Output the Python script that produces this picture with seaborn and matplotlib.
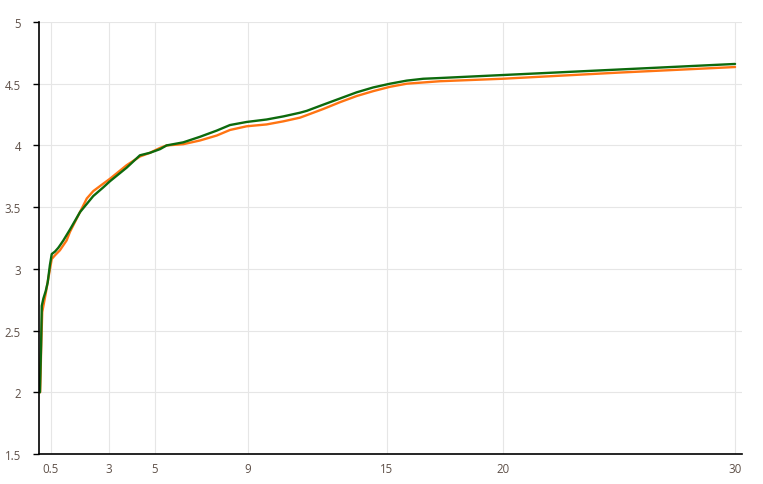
import matplotlib
matplotlib.use("Agg")
import matplotlib.pyplot as plt
import pandas as pd
import seaborn as sns

# values
green_x = [0.04, 0.09, 0.12, 0.19, 0.29, 0.375, 0.47, 0.55, 0.69, 0.83, 0.905, 1.05, 1.34,
           1.77, 2.34, 2.77, 3.06, 3.78, 4.35, 4.78, 5.22, 5.5, 6.22, 6.94, 7.66, 8.23,
           8.95, 9.81, 10.53, 11.25, 11.54, 12.25, 12.97, 13.69, 14.41, 15.13, 15.85,
           16.56, 17.28, 19.96, 25.0, 30.0]
green_y = [2.0, 2.38, 2.70, 2.76, 2.82, 2.89, 3.03, 3.12, 3.14, 3.17, 3.19, 3.23, 3.32,
           3.46, 3.59, 3.66, 3.71, 3.82, 3.92, 3.94, 3.97, 4.0, 4.025, 4.07, 4.12, 4.165,
           4.19, 4.21, 4.235, 4.265, 4.28, 4.33, 4.38, 4.43, 4.47, 4.50, 4.525,
           4.54, 4.546, 4.57, 4.615, 4.66]

orange_x = [0.05, 0.1, 0.14, 0.29, 0.40, 0.55, 0.69, 0.9, 1.19, 1.336, 1.767, 2.06, 2.34,
            2.77, 3.06, 3.78, 4.35, 4.78, 5.22, 5.5, 6.22, 6.94, 7.66, 8.23, 8.95, 9.81,
            10.53, 11.25, 11.54, 12.25, 12.97, 13.69, 14.41, 15.13, 15.85, 16.56, 17.28,
            19.96, 25.0, 30.0]
orange_y = [2.0, 2.40, 2.65, 2.80, 2.92, 3.08, 3.11, 3.15, 3.23, 3.30, 3.46, 3.57, 3.63,
            3.69, 3.73, 3.84, 3.91, 3.94, 3.98, 4.0, 4.01, 4.04, 4.08, 4.125, 4.155, 4.17,
            4.195, 4.225, 4.245, 4.295, 4.35, 4.40, 4.44, 4.475, 4.50, 4.51, 4.52,
            4.54, 4.59, 4.635]

x_ticks = [0.5, 3, 5, 9, 15, 20, 30]
y_ticks = [1.5, 2, 2.5, 3, 3.5, 4, 4.5, 5]

df = pd.concat([
    pd.DataFrame({"x": orange_x, "y": orange_y, "series": "orange"}),
    pd.DataFrame({"x": green_x, "y": green_y, "series": "green"}),
], ignore_index=True)

sns.set_theme(style="white")
plt.rcParams["font.family"] = ["Open Sans", "DejaVu Sans"]

fig = plt.figure(figsize=(7.63, 4.85), dpi=100)
ax = fig.add_axes([0.0511, 0.0619, 0.9214, 0.8907])

sns.lineplot(data=df, x="x", y="y", hue="series", sort=False,
             palette={"orange": "#ff7412", "green": "#0d6a0d"},
             linewidth=1.7, legend=False, ax=ax)
for line in ax.lines:
    line.set_solid_joinstyle("round")

ax.set_xlim(0, 30.3)
ax.set_ylim(1.5, 5)
ax.set_xticks(x_ticks)
ax.set_xticklabels(["0.5", "3", "5", "9", "15", "20", "30"])
ax.set_yticks(y_ticks)
ax.set_yticklabels(["1.5", "2", "2.5", "3", "3.5", "4", "4.5", "5"])
ax.set_xlabel("")
ax.set_ylabel("")

ax.grid(True, color="#e6e6e6", linewidth=0.8)
ax.set_axisbelow(True)
for side in ["top", "right"]:
    ax.spines[side].set_visible(False)
for side in ["left", "bottom"]:
    ax.spines[side].set_color("black")
    ax.spines[side].set_linewidth(1.2)

ax.tick_params(axis="y", length=4, width=1, color="black", pad=9,
               labelsize=8.3, labelcolor="#5e5048", left=True, direction="out")
ax.tick_params(axis="x", length=0, pad=6, labelsize=8.3, labelcolor="#5e5048")

fig.savefig("out.png", dpi=100)
